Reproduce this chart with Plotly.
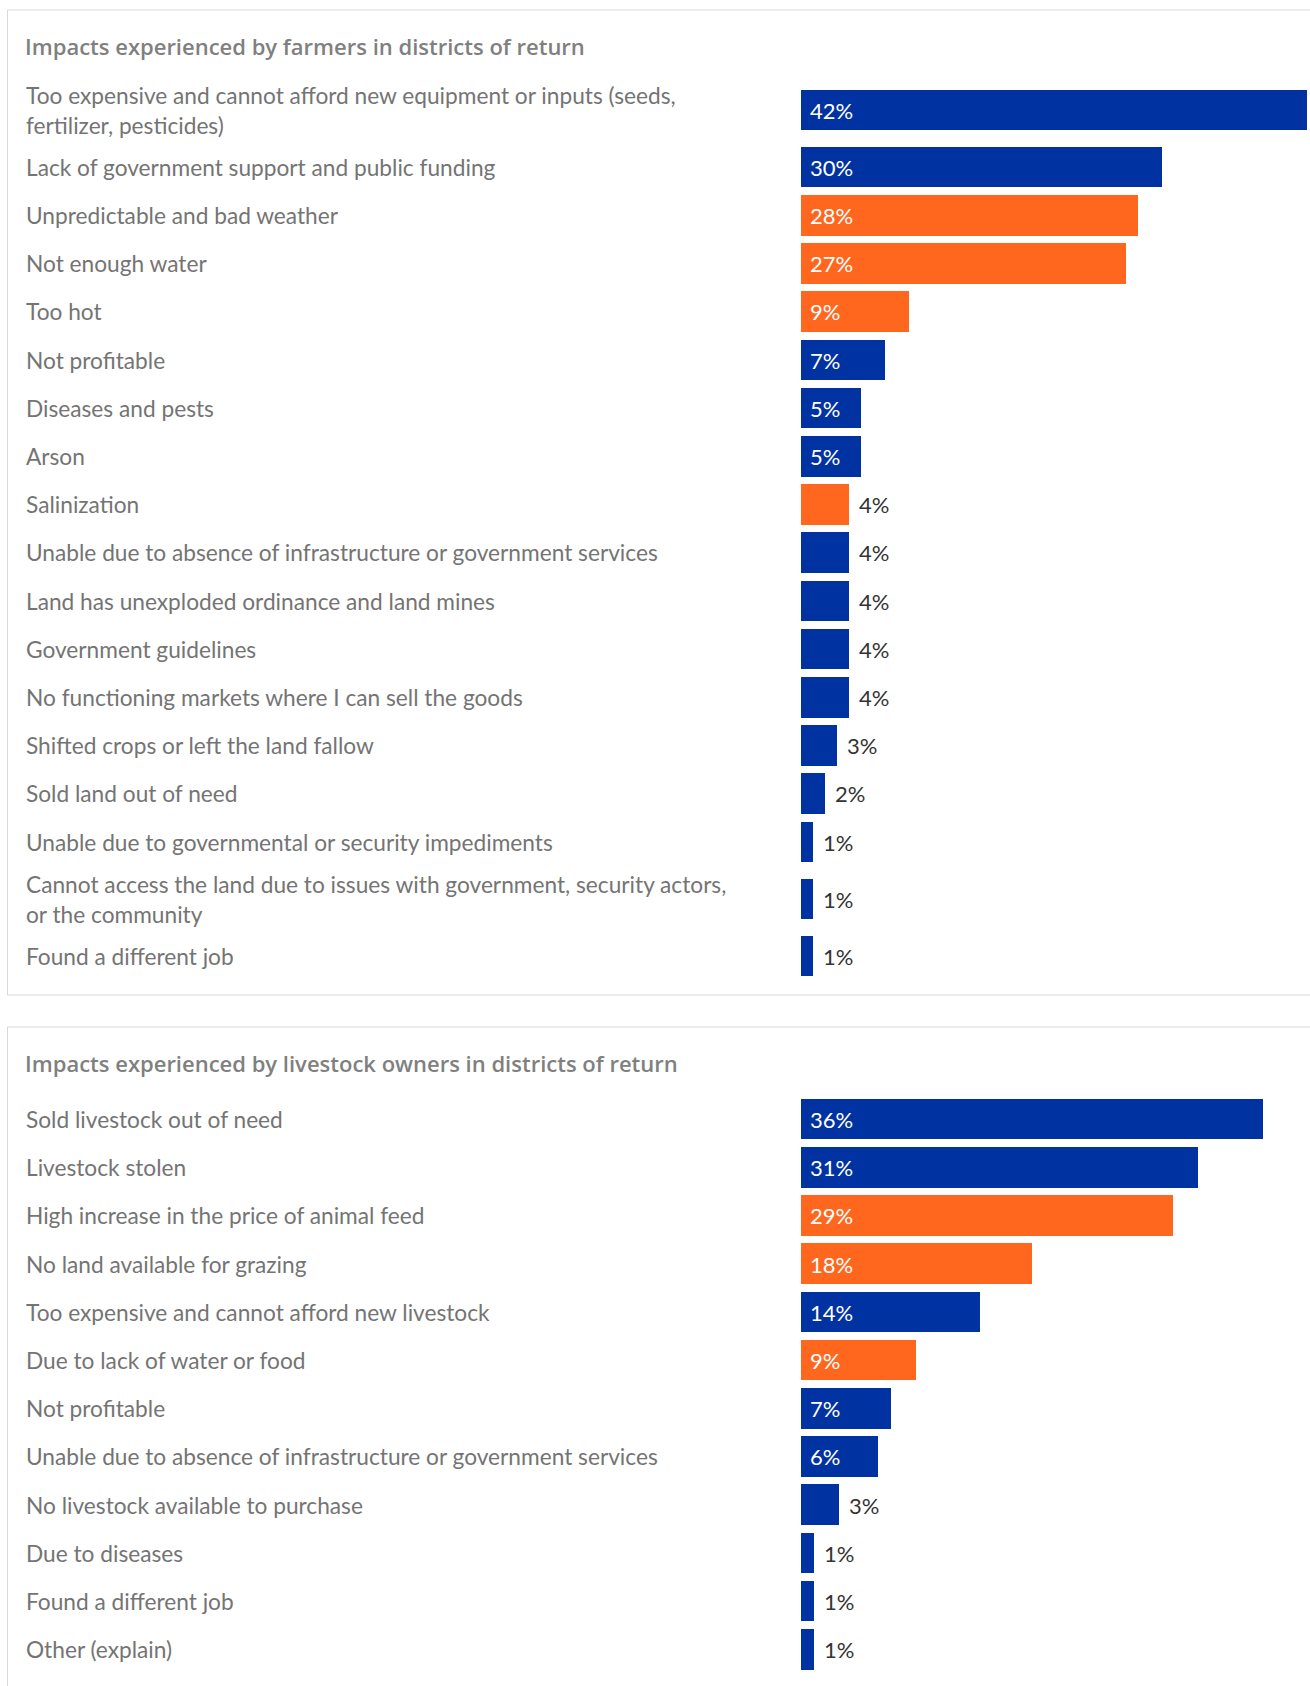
import plotly.graph_objects as go

W, H = 1310, 1686

# ---------------- data ----------------
farm_title = "Impacts experienced by farmers in districts of return"
farm_labels = [
    "Too expensive and cannot afford new equipment or inputs (seeds,<br>fertilizer, pesticides)",
    "Lack of government support and public funding",
    "Unpredictable and bad weather",
    "Not enough water",
    "Too hot",
    "Not profitable",
    "Diseases and pests",
    "Arson",
    "Salinization",
    "Unable due to absence of infrastructure or government services",
    "Land has unexploded ordinance and land mines",
    "Government guidelines",
    "No functioning markets where I can sell the goods",
    "Shifted crops or left the land fallow",
    "Sold land out of need",
    "Unable due to governmental or security impediments",
    "Cannot access the land due to issues with government, security actors,<br>or the community",
    "Found a different job",
]
farm_values = [42, 30, 28, 27, 9, 7, 5, 5, 4, 4, 4, 4, 4, 3, 2, 1, 1, 1]
farm_climate = [0, 0, 1, 1, 1, 0, 0, 0, 1, 0, 0, 0, 0, 0, 0, 0, 0, 0]

live_title = "Impacts experienced by livestock owners in districts of return"
live_labels = [
    "Sold livestock out of need",
    "Livestock stolen",
    "High increase in the price of animal feed",
    "No land available for grazing",
    "Too expensive and cannot afford new livestock",
    "Due to lack of water or food",
    "Not profitable",
    "Unable due to absence of infrastructure or government services",
    "No livestock available to purchase",
    "Due to diseases",
    "Found a different job",
    "Other (explain)",
]
live_values = [36, 31, 29, 18, 14, 9, 7, 6, 3, 1, 1, 1]
live_climate = [0, 0, 1, 1, 0, 1, 0, 0, 0, 0, 0, 0]

# ---------------- style ----------------
BLUE = "#0033a1"
ORANGE = "#ff671f"
FONT = "Lato"
TITLE_FONT = "Open Sans"
LABEL_COLOR = "#747474"
TITLE_COLOR = "#808080"
VALUE_DARK = "#333333"
BORDER = "#d9d9d9"

UNIT_PX = 48.2          # height of a one-line row
EXTRA_LINE = 0.369      # extra row height (in units) per additional label line
BAR_W = 0.845
PX_PER_PCT = [12.04, 12.82]
BAR_X0_PX = 801
LABEL_X_PX = 24
TITLE_X_PX = 23


def px_y(y):
    return 1 - y / H


def row_centers(labels):
    centers, acc = [], 0.0
    for lab in labels:
        h = 1 + EXTRA_LINE * lab.count("<br>")
        centers.append(acc + h / 2)
        acc += h
    return centers, acc


panels = [
    dict(title=farm_title, labels=farm_labels, values=farm_values, climate=farm_climate,
         top_px=77.3, title_px=45.5, box=(10, 995)),
    dict(title=live_title, labels=live_labels, values=live_values, climate=live_climate,
         top_px=1095.4, title_px=1062.7, box=(1027, 1720)),
]

fig = go.Figure()
annotations = []
shapes = []
layout_axes = {}

for i, p in enumerate(panels):
    sfx = "" if i == 0 else str(i + 1)
    centers, total = row_centers(p["labels"])
    bottom_px = p["top_px"] + total * UNIT_PX
    colors = [ORANGE if c else BLUE for c in p["climate"]]

    fig.add_trace(go.Bar(
        x=p["values"], y=centers, orientation="h", width=BAR_W,
        marker=dict(color=colors, line=dict(width=0)),
        xaxis="x" + sfx, yaxis="y" + sfx, hoverinfo="skip", showlegend=False,
    ))

    xmax = (W - BAR_X0_PX) / PX_PER_PCT[i]
    layout_axes["xaxis" + sfx] = dict(
        domain=[BAR_X0_PX / W, 1], range=[0, xmax], showgrid=False, zeroline=False,
        showticklabels=False, showline=False, fixedrange=True,
        anchor="y" + sfx,
    )
    layout_axes["yaxis" + sfx] = dict(
        domain=[px_y(bottom_px), px_y(p["top_px"])], range=[total, 0],
        showgrid=False, zeroline=False, showticklabels=False, showline=False,
        fixedrange=True, anchor="x" + sfx,
    )

    # category labels
    for lab, yc in zip(p["labels"], centers):
        annotations.append(dict(
            text=lab, x=LABEL_X_PX / W, xref="paper", xanchor="left",
            y=yc, yref="y" + sfx, yanchor="middle", align="left", showarrow=False,
            font=dict(family=FONT, size=22.7, color=LABEL_COLOR),
        ))
    # value labels
    for v, yc in zip(p["values"], centers):
        inside = v >= 5
        annotations.append(dict(
            text=f"{v}%", x=0 if inside else v, xref="x" + sfx, xanchor="left",
            xshift=7 if inside else 8, y=yc, yref="y" + sfx, yanchor="middle",
            showarrow=False,
            font=dict(family=FONT, size=22, color="#ffffff" if inside else VALUE_DARK),
        ))
    # title
    annotations.append(dict(
        text=p["title"], x=TITLE_X_PX / W, xref="paper", xanchor="left",
        y=px_y(p["title_px"]), yref="paper", yanchor="middle", showarrow=False,
        font=dict(family=TITLE_FONT, size=22, color=TITLE_COLOR, weight=600),
    ))
    # panel frame
    shapes.append(dict(
        type="rect", xref="paper", yref="paper", x0=7.5 / W, x1=1.05,
        y0=px_y(p["box"][1]), y1=px_y(p["box"][0]),
        line=dict(color=BORDER, width=1), fillcolor="rgba(0,0,0,0)", layer="below",
    ))

fig.update_layout(
    width=W, height=H, margin=dict(l=0, r=0, t=0, b=0),
    paper_bgcolor="white", plot_bgcolor="white",
    annotations=annotations, shapes=shapes, bargap=0,
    font=dict(family=FONT), hovermode=False,
    **layout_axes,
)

fig.write_html("out.html", config={"displayModeBar": False},
               post_script="document.body.style.margin='0';document.body.style.overflow='hidden';")
